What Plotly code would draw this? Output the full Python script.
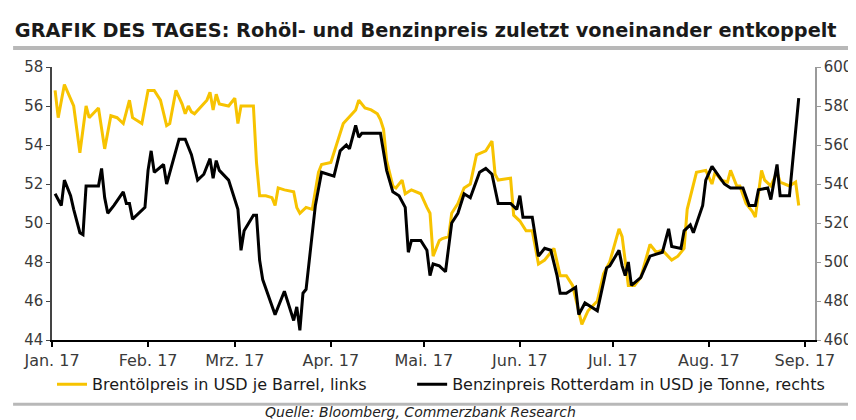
import plotly.graph_objects as go

# Brent (USD/bbl, left axis)
brent_dates = [
    "2017-01-02","2017-01-03","2017-01-05","2017-01-08","2017-01-10","2017-01-12","2017-01-13","2017-01-16",
    "2017-01-18","2017-01-20","2017-01-22","2017-01-24","2017-01-26","2017-01-27","2017-01-30","2017-02-01",
    "2017-02-03","2017-02-05","2017-02-07","2017-02-08","2017-02-10","2017-02-12","2017-02-13","2017-02-14",
    "2017-02-15","2017-02-16","2017-02-20","2017-02-21","2017-02-22","2017-02-23","2017-02-24","2017-02-27",
    "2017-03-01","2017-03-02","2017-03-03","2017-03-07","2017-03-08","2017-03-09","2017-03-11","2017-03-13",
    "2017-03-14","2017-03-15","2017-03-17","2017-03-20","2017-03-21","2017-03-22","2017-03-24","2017-03-26",
    "2017-03-28","2017-03-29","2017-04-01","2017-04-03","2017-04-05","2017-04-09","2017-04-10","2017-04-12",
    "2017-04-14","2017-04-16","2017-04-17","2017-04-18","2017-04-19","2017-04-21","2017-04-22","2017-04-24",
    "2017-04-25","2017-04-27","2017-04-30","2017-05-02","2017-05-03","2017-05-04","2017-05-06","2017-05-07",
    "2017-05-09","2017-05-10","2017-05-12","2017-05-14","2017-05-16","2017-05-18","2017-05-21","2017-05-23",
    "2017-05-24","2017-05-25","2017-05-29","2017-05-30","2017-06-01","2017-06-03","2017-06-05","2017-06-07",
    "2017-06-09","2017-06-12","2017-06-14","2017-06-16","2017-06-18","2017-06-21","2017-06-23","2017-06-26",
    "2017-06-28","2017-06-30","2017-07-03","2017-07-04","2017-07-06","2017-07-08","2017-07-10","2017-07-13",
    "2017-07-15","2017-07-17","2017-07-20","2017-07-22","2017-07-24","2017-07-25","2017-07-28","2017-07-31",
    "2017-08-02","2017-08-03","2017-08-05","2017-08-07","2017-08-08","2017-08-10","2017-08-11","2017-08-13",
    "2017-08-15","2017-08-16","2017-08-18","2017-08-19","2017-08-21","2017-08-23","2017-08-24","2017-08-27",
    "2017-08-29","2017-08-30",
]
brent_values = [
    56.8,55.4,57.1,56.0,53.6,56.0,55.4,55.9,
    53.8,55.5,55.4,55.1,56.3,55.4,55.1,56.8,
    56.8,56.3,55.0,55.1,56.8,56.1,55.6,56.0,
    55.7,55.6,56.3,56.7,55.8,56.6,56.1,56.0,
    56.4,55.1,56.0,56.0,53.1,51.4,51.4,51.3,
    50.9,51.8,51.7,51.6,50.8,50.5,50.8,50.7,
    52.6,53.0,53.1,54.1,55.1,55.8,56.3,55.9,
    55.8,55.6,55.3,54.8,53.2,51.9,51.8,52.2,
    51.5,51.7,51.5,50.8,50.5,48.3,49.1,49.2,
    49.3,50.5,51.0,51.8,52.0,53.5,53.7,54.2,
    52.5,52.2,52.3,50.4,50.1,49.6,49.6,47.9,
    48.1,48.7,47.3,47.3,46.8,44.8,45.5,46.0,
    47.4,48.0,49.7,49.3,46.8,46.8,47.2,48.9,
    48.5,48.6,48.1,48.3,48.7,50.7,52.6,52.7,
    52.0,52.6,52.2,52.1,52.7,51.9,51.9,51.0,
    50.6,50.3,52.7,52.2,51.9,52.6,52.1,51.9,
    52.1,50.9,
]

# Gasoline Rotterdam (USD/t, right axis)
gas_dates = [
    "2017-01-02","2017-01-04","2017-01-05","2017-01-07","2017-01-08","2017-01-10","2017-01-11","2017-01-12",
    "2017-01-16","2017-01-17","2017-01-18","2017-01-19","2017-01-21","2017-01-24","2017-01-25","2017-01-26",
    "2017-01-27","2017-01-31","2017-02-01","2017-02-02","2017-02-03","2017-02-06","2017-02-07","2017-02-09",
    "2017-02-11","2017-02-13","2017-02-15","2017-02-17","2017-02-19","2017-02-21","2017-02-22","2017-02-23",
    "2017-02-24","2017-02-27","2017-03-01","2017-03-02","2017-03-03","2017-03-04","2017-03-07","2017-03-08",
    "2017-03-09","2017-03-10","2017-03-14","2017-03-17","2017-03-20","2017-03-21","2017-03-22","2017-03-23",
    "2017-03-24","2017-03-27","2017-03-29","2017-04-02","2017-04-04","2017-04-06","2017-04-07","2017-04-09",
    "2017-04-10","2017-04-11","2017-04-17","2017-04-19","2017-04-21","2017-04-23","2017-04-25","2017-04-26",
    "2017-04-27","2017-04-30","2017-05-02","2017-05-03","2017-05-04","2017-05-06","2017-05-08","2017-05-10",
    "2017-05-12","2017-05-14","2017-05-16","2017-05-19","2017-05-21","2017-05-23","2017-05-25","2017-05-29",
    "2017-05-31","2017-06-01","2017-06-02","2017-06-05","2017-06-07","2017-06-09","2017-06-11","2017-06-13",
    "2017-06-14","2017-06-16","2017-06-19","2017-06-20","2017-06-22","2017-06-26","2017-06-29","2017-06-30",
    "2017-07-03","2017-07-04","2017-07-05","2017-07-06","2017-07-07","2017-07-10","2017-07-13","2017-07-17",
    "2017-07-19","2017-07-20","2017-07-23","2017-07-24","2017-07-26","2017-07-27","2017-07-30","2017-07-31",
    "2017-08-02","2017-08-06","2017-08-08","2017-08-11","2017-08-12","2017-08-14","2017-08-16","2017-08-17",
    "2017-08-20","2017-08-21","2017-08-23","2017-08-24","2017-08-27","2017-08-30",
]
gas_values = [
    535,529,542,534,527,515,514,539,
    539,548,533,525,529,536,530,530,
    522,528,547,557,546,550,540,552,
    563,563,555,542,545,553,543,552,
    547,542,532,527,506,516,524,524,
    501,491,473,485,470,477,465,484,
    486,529,546,544,557,560,558,570,
    564,566,566,547,536,534,528,505,
    511,511,506,493,499,498,495,520,
    525,535,533,546,548,545,530,530,
    527,534,523,523,503,507,506,493,
    484,484,487,473,479,475,497,498,
    506,498,493,500,488,492,503,505,
    517,508,507,516,519,515,529,542,
    549,540,538,538,538,529,529,537,
    538,532,550,534,534,584,
]

month_ticks = ["2017-01-01","2017-02-01","2017-03-01","2017-04-01","2017-05-01",
               "2017-06-01","2017-07-01","2017-08-01","2017-09-01"]
month_labels = ["Jan. 17","Feb. 17","Mrz. 17","Apr. 17","Mai. 17",
                "Jun. 17","Jul. 17","Aug. 17","Sep. 17"]

FONT = "DejaVu Sans, Liberation Sans, Arial, sans-serif"
TICKCOL = "#3a3a3a"

fig = go.Figure()
fig.add_trace(go.Scatter(
    x=brent_dates, y=brent_values, mode="lines",
    name="Brentölpreis in USD je Barrel, links",
    line=dict(color="#F7C300", width=3), yaxis="y", legend="legend"))
fig.add_trace(go.Scatter(
    x=gas_dates, y=gas_values, mode="lines",
    name="Benzinpreis Rotterdam in USD je Tonne, rechts",
    line=dict(color="#000000", width=3), yaxis="y2", legend="legend2"))

legend_common = dict(orientation="h", yanchor="top", y=-0.1,
                     font=dict(size=16, color="#1a1a1a"),
                     bgcolor="rgba(0,0,0,0)")

fig.update_layout(
    width=856, height=420,
    margin=dict(l=44, r=44, t=59, b=88),
    paper_bgcolor="white", plot_bgcolor="white",
    font=dict(family=FONT, size=14, color=TICKCOL),
    title=dict(text="<b>GRAFIK DES TAGES: Rohöl- und Benzinpreis zuletzt voneinander entkoppelt</b>",
               x=0.008, xanchor="left", xref="container",
               y=0.948, yanchor="middle", yref="container",
               font=dict(family=FONT, size=19.3, color="#1a1a1a")),
    xaxis=dict(type="date", range=["2017-01-01", "2017-09-04 06:00"],
               tickvals=month_ticks, ticktext=month_labels,
               showgrid=False, zeroline=False,
               showline=True, linecolor="#000000", linewidth=2,
               ticks="outside", ticklen=5, tickwidth=1.5, tickcolor="#000000",
               tickfont=dict(size=16, color=TICKCOL)),
    yaxis=dict(range=[44, 58], dtick=2, showgrid=False, zeroline=False,
               showline=True, linecolor="#444444", linewidth=1.5,
               ticks="outside", ticklen=4, tickcolor="#444444",
               tickfont=dict(size=15, color=TICKCOL)),
    yaxis2=dict(range=[460, 600], dtick=20, overlaying="y", side="right",
                showgrid=False, zeroline=False,
                showline=True, linecolor="#9a9a9a", linewidth=1.5,
                ticks="outside", ticklen=4, tickcolor="#9a9a9a",
                tickfont=dict(size=15, color=TICKCOL)),
    legend=dict(x=0.0, xanchor="left", **legend_common),
    legend2=dict(x=0.472, xanchor="left", **legend_common),
    showlegend=True,
)

# decorative grey rules (title underline and footer line)
fig.add_shape(type="line", xref="paper", yref="paper",
              x0=-0.051, x1=1.06, y0=1.07, y1=1.07,
              line=dict(color="#b8b8b8", width=4))
fig.add_shape(type="line", xref="paper", yref="paper",
              x0=-0.051, x1=1.06, y0=-0.235, y1=-0.235,
              line=dict(color="#b8b8b8", width=3))

fig.add_annotation(text="<i>Quelle: Bloomberg, Commerzbank Research</i>",
                   xref="paper", yref="paper", x=0.483, y=-0.3,
                   xanchor="center", yanchor="bottom", showarrow=False,
                   font=dict(family=FONT, size=14, color="#222222"))

fig.write_html("out.html")
